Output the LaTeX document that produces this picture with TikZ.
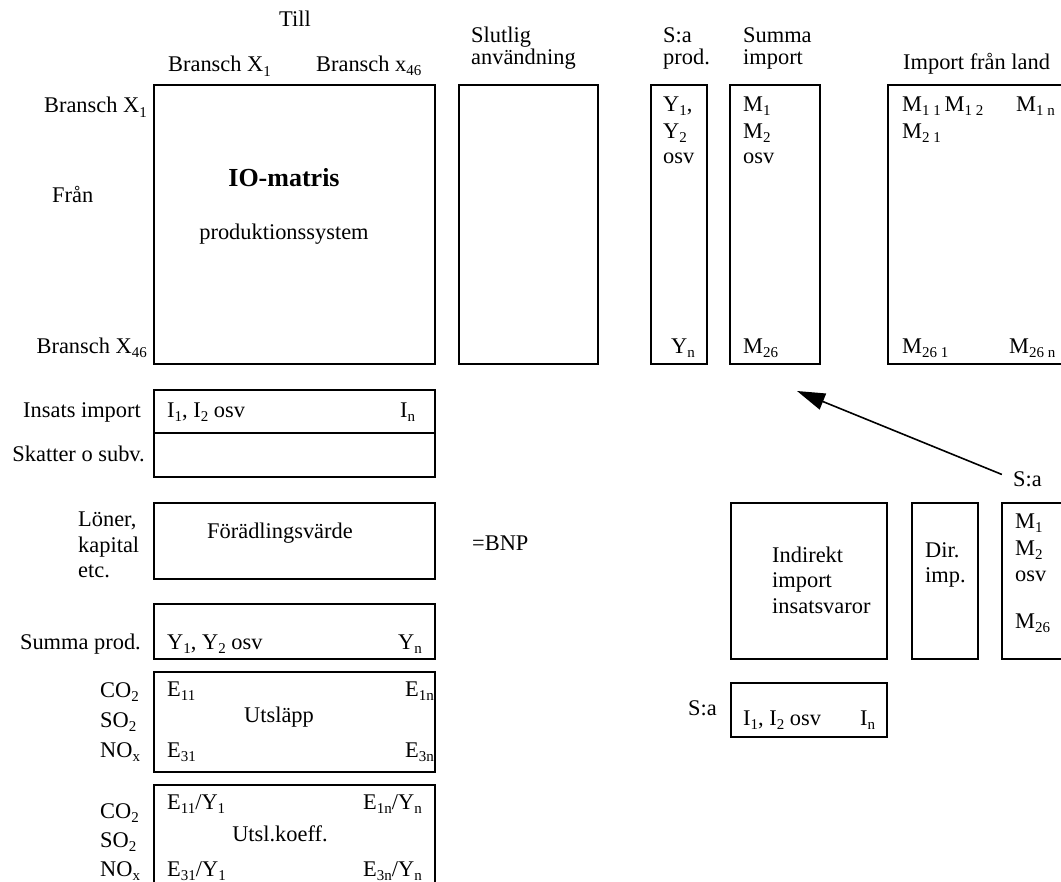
\documentclass[tikz,border=0pt]{standalone}
\usepackage{fontspec}
\setmainfont{Liberation Serif}
\usetikzlibrary{arrows.meta}
\newcommand\fsz{\fontsize{22.4}{25.5}\selectfont}
\newcommand\sub[1]{\raisebox{-4.5pt}{\fontsize{15}{15}\selectfont #1}}
% framed box from (x1,y1) to (x2,y2), y measured downwards
\newcommand\frm[5]{\node[frame, minimum width={(#4-#2)*1pt}, minimum height={(#5-#3)*1pt}] (#1) at ({(#2+#4)/2},{(#3+#5)/2}) {};}
\tikzset{
  frame/.style={draw, line width=1.8pt, rectangle, inner sep=0pt, outer sep=0pt},
  txt/.style={inner sep=0pt, font=\fsz},
  lt/.style={txt, anchor=west},
  rt/.style={txt, anchor=east},
  head/.style={txt, anchor=west, align=left, font=\fontsize{22.4}{22}\selectfont},
}
\begin{document}
\begin{tikzpicture}[x=1pt, y=-1pt]
\clip (0,0) rectangle (1061,882);
\fill[white] (0,0) rectangle (1061,882);

% ---- boxes
\frm{io}{154}{85}{435}{364}
\frm{slut}{459}{85}{598}{364}
\frm{sap}{651}{85}{707}{364}
\frm{simp}{730}{85}{820}{364}
\frm{land}{888}{85}{1075}{364}
\frm{ins}{154}{390}{435}{433}
\frm{skatt}{154}{433}{435}{477}
\frm{forad}{154}{503}{435}{579}
\frm{sprod}{154}{604}{435}{659}
\frm{utsl}{154}{672}{435}{772}
\frm{koeff}{154}{785}{435}{905}
\frm{indir}{731}{503}{887}{659}
\frm{dir}{912}{503}{978}{659}
\frm{sam}{1002}{503}{1075}{659}
\frm{sai}{731}{683}{887}{737}

% ---- column headings
\node[txt] (till) at (295,19) {Till};
\node[lt] (hx1) at (168,66) {Bransch X\sub{1}};
\node[lt] (hx46) at (316,66) {Bransch x\sub{46}};
\node[head] (hslut) at (471,48) {Slutlig\\användning};
\node[head] (hsap) at (663,48) {S:a\\prod.};
\node[head] (hsimp) at (743,48) {Summa\\import};
\node[lt] (hland) at (903,64) {Import från land};

% ---- row labels
\node[rt] (rx1) at (147,107) {Bransch X\sub{1}};
\node[lt] (fran) at (52,195) {Från};
\node[rt] (rx46) at (147,348) {Bransch X\sub{46}};
\node[rt] (rins) at (141,412) {Insats import};
\node[rt] (rskatt) at (145,454) {Skatter o subv.};
\node[txt, anchor=west, align=left] (rlon) at (78,545) {Löner,\\kapital\\etc.};
\node[rt] (rsprod) at (141,644) {Summa prod.};
\node[txt, anchor=west, align=left, font=\fontsize{22.4}{30}\selectfont] (rgas1) at (100,722) {CO\sub{2}\\SO\sub{2}\\NO\sub{x}};
\node[txt, anchor=west, align=left, font=\fontsize{22.4}{29}\selectfont] (rgas2) at (100,842) {CO\sub{2}\\SO\sub{2}\\NO\sub{x}};

% ---- IO matrix
\node[txt, font=\fontsize{26}{30}\selectfont\bfseries] (iot) at (284,178) {IO-matris};
\node[txt] (prod) at (284,234) {produktionssystem};

% ---- totals columns
\node[lt] (y1) at (663,106) {Y\sub{1},};
\node[lt] (y2) at (663,133) {Y\sub{2}};
\node[lt] (yosv) at (663,158) {osv};
\node[lt] (yn) at (671,348) {Y\sub{n}};
\node[lt] (m1) at (743,106) {M\sub{1}};
\node[lt] (m2) at (743,133) {M\sub{2}};
\node[lt] (mosv) at (743,158) {osv};
\node[lt] (m26) at (743,348) {M\sub{26}};

% ---- import by country
\node[lt] (m11) at (902,106) {M\sub{1 1}\,M\sub{1 2}};
\node[lt] (m1n) at (1016,106) {M\sub{1 n}};
\node[lt] (m21) at (902,133) {M\sub{2 1}};
\node[lt] (m261) at (902,348) {M\sub{26 1}};
\node[lt] (m26n) at (1009,348) {M\sub{26 n}};

% ---- rows under the matrix
\node[lt] (i12) at (167,412) {I\sub{1}, I\sub{2} osv};
\node[lt] (in) at (400,412) {I\sub{n}};
\node[txt] (fv) at (280,533) {Förädlingsvärde};
\node[lt] (bnp) at (472,543) {=BNP};
\node[lt] (sy12) at (167,644) {Y\sub{1}, Y\sub{2} osv};
\node[rt] (syn) at (422,644) {Y\sub{n}};
\node[lt] (e11) at (167,691) {E\sub{11}};
\node[rt] (e1n) at (434,691) {E\sub{1n}};
\node[txt] (uts) at (279,717) {Utsläpp};
\node[lt] (e31) at (167,752) {E\sub{31}};
\node[rt] (e3n) at (434,752) {E\sub{3n}};
\node[lt] (k11) at (167,804) {E\sub{11}/Y\sub{1}};
\node[rt] (k1n) at (422,804) {E\sub{1n}/Y\sub{n}};
\node[txt] (ukf) at (280,834) {Utsl.koeff.};
\node[lt] (k31) at (167,871) {E\sub{31}/Y\sub{1}};
\node[rt] (k3n) at (422,871) {E\sub{3n}/Y\sub{n}};

% ---- import split
\node[lt] (sa1) at (1013,479) {S:a};
\node[txt, anchor=west, align=left] (indt) at (772,580) {Indirekt\\import\\insatsvaror};
\node[txt, anchor=west, align=left] (dirt) at (925,565) {Dir.\\imp.};
\node[lt] (sm1) at (1015,523) {M\sub{1}};
\node[lt] (sm2) at (1015,550) {M\sub{2}};
\node[lt] (smosv) at (1015,576) {osv};
\node[lt] (sm26) at (1015,623) {M\sub{26}};
\node[lt] (sa2) at (688,708) {S:a};
\node[lt] (si12) at (743,720) {I\sub{1}, I\sub{2} osv};
\node[lt] (sin) at (860,720) {I\sub{n}};

% ---- arrow back to the import totals
\coordinate (tip) at (797,391);
\draw[line width=1.6pt, -{Triangle[length=28pt, width=17pt]}, shorten <=12pt] (sa1.west) -- (tip);
\end{tikzpicture}
\end{document}
